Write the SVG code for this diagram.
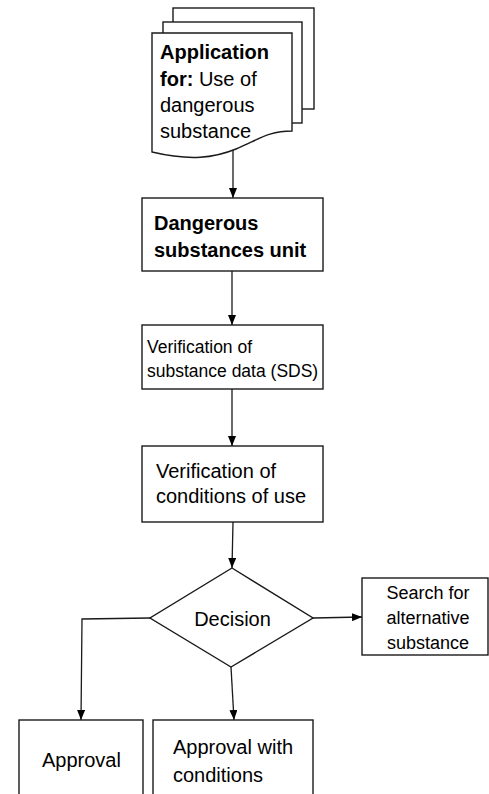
<svg xmlns="http://www.w3.org/2000/svg" width="489" height="794" viewBox="0 0 489 794">
<style>
.shape{fill:#fff;stroke:#1a1a1a;stroke-width:1.4}
.edge{fill:none;stroke:#1a1a1a;stroke-width:1.3}
text{font-family:"Liberation Sans",Arial,sans-serif;font-size:20px;fill:#000}
.b{font-weight:bold}
</style>
<defs>
<marker id="arr" markerUnits="userSpaceOnUse" markerWidth="10" markerHeight="8" refX="10" refY="4" orient="auto">
<path d="M0,0 L10,4 L0,8 Z" fill="#000"/>
</marker>
</defs>
<rect width="489" height="794" fill="#fff"/>
<g id="connectors">
<path class="edge" d="M233,150 L233,198" marker-end="url(#arr)"/>
<path class="edge" d="M232,271 L232,325" marker-end="url(#arr)"/>
<path class="edge" d="M232,389 L232,446" marker-end="url(#arr)"/>
<path class="edge" d="M233,522 L232,568" marker-end="url(#arr)"/>
<path class="edge" d="M313,618 L362,617" marker-end="url(#arr)"/>
<path class="edge" d="M150,618 L82,619 L81,720" marker-end="url(#arr)"/>
<path class="edge" d="M231,667 L234,720" marker-end="url(#arr)"/>
</g>
<g id="application">
<rect class="shape" x="173" y="8" width="141" height="101"/>
<rect class="shape" x="163" y="22" width="139" height="101"/>
<path class="shape" d="M152,33 H292 V131 C268,131 258,140 236,149 C214,158 190,161 152,152 Z"/>
<text x="160" y="59" class="b">Application</text>
<text x="160" y="86"><tspan class="b">for:</tspan> Use of</text>
<text x="160" y="112">dangerous</text>
<text x="160" y="138">substance</text>
</g>
<g id="unit">
<rect class="shape" x="142" y="198" width="181" height="73"/>
<text x="154" y="230" class="b">Dangerous</text>
<text x="154" y="257" class="b">substances unit</text>
</g>
<g id="sds">
<rect class="shape" x="142" y="325" width="181" height="64"/>
<text x="147" y="353" style="font-size:17.5px">Verification of</text>
<text x="147" y="377" style="font-size:17.5px">substance data (SDS)</text>
</g>
<g id="conditions">
<rect class="shape" x="142" y="446" width="181" height="76"/>
<text x="156" y="478">Verification of</text>
<text x="156" y="503">conditions of use</text>
</g>
<g id="decision">
<path class="shape" d="M232,568 L313,618 L231,667 L150,618 Z"/>
<text x="232.5" y="626" text-anchor="middle">Decision</text>
</g>
<g id="search">
<rect class="shape" x="362" y="578" width="126" height="77"/>
<text x="428" y="599" text-anchor="middle" style="font-size:18px">Search for</text>
<text x="428" y="624" text-anchor="middle" style="font-size:18px">alternative</text>
<text x="428" y="649" text-anchor="middle" style="font-size:18px">substance</text>
</g>
<g id="approval">
<rect class="shape" x="19" y="720" width="124" height="90"/>
<text x="42" y="767">Approval</text>
</g>
<g id="approval-conditions">
<rect class="shape" x="153" y="720" width="160" height="90"/>
<text x="173" y="754">Approval with</text>
<text x="173" y="782">conditions</text>
</g>
</svg>
